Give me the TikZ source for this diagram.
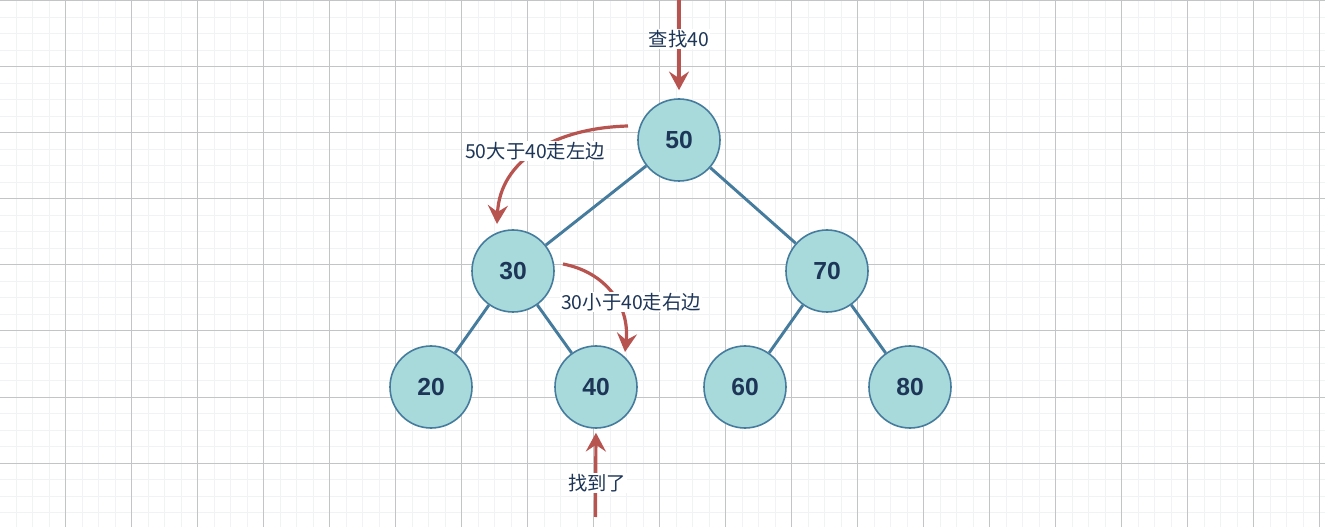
\documentclass[tikz,border=0pt]{standalone}
\usepackage{fontspec}
\setmainfont{Liberation Sans}
\newfontfamily\cjk{Noto Sans CJK SC}
\usetikzlibrary{arrows.meta}
\definecolor{nodefill}{HTML}{A8DADC}
\definecolor{nodeline}{HTML}{457B9D}
\definecolor{nodetext}{HTML}{1D3557}
\definecolor{searchred}{HTML}{B85450}
\definecolor{gridmajor}{HTML}{C2C4C6}
\definecolor{gridminor}{HTML}{F0F2F4}

\begin{document}
\begin{tikzpicture}[x=0.75pt,y=-0.75pt,
  treenode/.style={circle,draw=nodeline,line width=1.2pt,fill=nodefill,minimum size=61.5pt,inner sep=0pt,
    font=\fontsize{18.5}{18.5}\selectfont\bfseries,text=nodetext},
  treeedge/.style={draw=nodeline,line width=2.2pt},
  searcharrow/.style={draw=searchred,line width=2.4pt,-{Stealth[length=14pt,width=15pt,inset=5pt]}},
  steplabel/.style={fill=white,inner sep=1pt,font=\cjk\fontsize{14.5}{14.5}\selectfont,text=nodetext}]
%
\useasboundingbox (0,0) rectangle (1325,527);
\fill[white] (0,0) rectangle (1325,527);
% grid
\foreach \i in {0,...,80}
  \draw[gridminor,line width=0.75pt] ({-0.5+16.5*\i},0) -- ({-0.5+16.5*\i},527);
\foreach \i in {0,...,31}
  \draw[gridminor,line width=0.75pt] (0,{1+16.5*\i}) -- (1325,{1+16.5*\i});
\foreach \i in {1,...,20}
  \draw[gridmajor,line width=0.75pt] ({-0.5+66*\i},0) -- ({-0.5+66*\i},527);
\foreach \i in {0,...,7}
  \draw[gridmajor,line width=0.75pt] (0,{1+66*\i}) -- (1325,{1+66*\i});
%
\node[treenode] (n50) at (679,140) {50};
\node[treenode] (n30) at (513,271) {30};
\node[treenode] (n70) at (827,271) {70};
\node[treenode] (n20) at (431,387) {20};
\node[treenode] (n40) at (596,387) {40};
\node[treenode] (n60) at (745,387) {60};
\node[treenode] (n80) at (910,387) {80};
%
\draw[treeedge] (n50) -- (n30);
\draw[treeedge] (n50) -- (n70);
\draw[treeedge] (n30) -- (n20);
\draw[treeedge] (n30) -- (n40);
\draw[treeedge] (n70) -- (n60);
\draw[treeedge] (n70) -- (n80);
%
\coordinate (start) at (679,0);
\coordinate (left0) at (628,126);
\coordinate (left1) at (497,224);
\coordinate (right0) at (563,264);
\coordinate (right1) at (625,352);
\coordinate (found) at (595.5,517);
%
\draw[searcharrow,shorten >=6pt] (start) -- (n50.north);
\draw[searcharrow] (left0) .. controls (555,128) and (500,160) .. (left1);
\draw[searcharrow] (right0) .. controls (605,272) and (630,305) .. (right1);
\draw[searcharrow,shorten >=3pt] (found) -- (n40.south);
%
\node[steplabel] (lab1) at (679,39) {查找40};
\node[steplabel] (lab2) at (535,151) {50大于40走左边};
\node[steplabel] (lab3) at (631,302) {30小于40走右边};
\node[steplabel] (lab4) at (597,483) {找到了};
\end{tikzpicture}
\end{document}
